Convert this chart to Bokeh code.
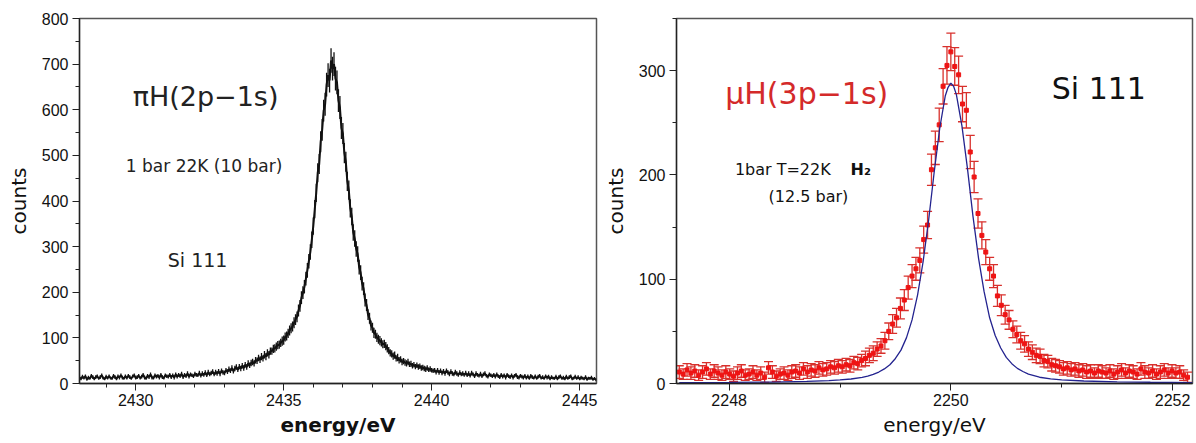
from bokeh.plotting import figure
from bokeh.layouts import row
from bokeh.models import (Range1d, SingleIntervalTicker, Label, Whisker, TeeHead,
                          ColumnDataSource)
from bokeh.embed import file_html
from bokeh.resources import INLINE
import numpy as np

# ---------------- left panel: pionic hydrogen, (2p-1s), Si 111 ----------------
pi_start = 2428.10
pi_step = 0.05
pi_counts = [
    13, 10, 15, 12, 16, 9, 13, 11, 17, 14, 10, 14, 16, 11, 14, 18, 12, 10, 15, 12,
    16, 12, 11, 17, 14, 10, 16, 13, 18, 13, 11, 16, 12, 17, 14, 11, 16, 18, 12, 14,
    17, 12, 15, 19, 13, 11, 17, 14, 20, 13, 12, 18, 15, 17, 13, 19, 14, 12, 18, 16,
    15, 19, 14, 18, 13, 20, 15, 19, 16, 21, 14, 19, 16, 22, 15, 20, 18, 16, 21, 19,
    18, 23, 17, 22, 19, 24, 18, 25, 20, 23, 26, 20, 25, 22, 27, 21, 28, 24, 23, 29,
    26, 31, 28, 34, 27, 33, 36, 30, 37, 33, 39, 34, 41, 36, 44, 40, 45, 47, 44, 51,
    50, 56, 52, 59, 55, 63, 59, 67, 63, 71, 71, 76, 77, 81, 84, 85, 89, 93, 95, 102,
    104, 110, 116, 121, 125, 133, 140, 146, 160, 170, 188, 199, 212, 230, 248, 268, 288, 315, 345, 382,
    418, 462, 481, 530, 556, 598, 612, 655, 676, 664, 708, 690, 700, 668, 660, 620, 605, 560, 548, 505,
    486, 443, 424, 384, 366, 331, 318, 295, 284, 255, 243, 219, 208, 183, 172, 151, 143, 127, 122, 111,
    108, 101, 97, 94, 90, 86, 87, 82, 77, 72, 67, 65, 60, 62, 55, 57, 51, 53, 47, 49,
    46, 44, 47, 42, 43, 39, 41, 37, 40, 36, 38, 34, 35, 33, 31, 34, 30, 32, 29, 28,
    29, 25, 29, 24, 28, 23, 27, 22, 28, 24, 21, 26, 22, 20, 25, 22, 19, 24, 20, 22,
    19, 23, 18, 22, 17, 23, 20, 16, 22, 19, 17, 21, 16, 20, 22, 17, 15, 20, 18, 16,
    19, 15, 20, 16, 14, 19, 15, 18, 13, 19, 16, 14, 18, 13, 17, 19, 14, 13, 17, 15,
    13, 17, 12, 16, 11, 17, 14, 12, 16, 11, 15, 17, 12, 14, 11, 16, 13, 15, 10, 14,
    12, 11, 15, 10, 14, 16, 11, 13, 10, 15, 11, 14, 16, 10, 12, 15, 11, 14, 10, 13,
    12, 10, 14, 9, 12, 11, 13, 9, 11, 8,
]
pi_err = [
    4, 3, 4, 3, 4, 3, 4, 3, 4, 4, 3, 4, 4, 3, 4, 4, 3, 3, 4, 3,
    4, 3, 3, 4, 4, 3, 4, 4, 4, 4, 3, 4, 3, 4, 4, 3, 4, 4, 3, 4,
    4, 3, 4, 4, 4, 3, 4, 4, 4, 4, 3, 4, 4, 4, 4, 4, 4, 3, 4, 4,
    4, 4, 4, 4, 4, 4, 4, 4, 4, 5, 4, 4, 4, 5, 4, 4, 4, 4, 5, 4,
    4, 5, 4, 5, 4, 5, 4, 5, 4, 5, 5, 4, 5, 5, 5, 5, 5, 5, 5, 5,
    5, 6, 5, 6, 5, 6, 6, 5, 6, 6, 6, 6, 6, 6, 7, 6, 7, 7, 7, 7,
    7, 7, 7, 8, 7, 8, 8, 8, 8, 8, 8, 9, 9, 9, 9, 9, 9, 10, 10, 10,
    10, 10, 11, 11, 11, 12, 12, 12, 13, 13, 14, 14, 15, 15, 16, 16, 17, 18, 19, 20,
    20, 21, 22, 23, 24, 24, 25, 26, 26, 26, 27, 26, 26, 26, 26, 25, 25, 24, 23, 22,
    22, 21, 21, 20, 19, 18, 18, 17, 17, 16, 16, 15, 14, 14, 13, 12, 12, 11, 11, 11,
    10, 10, 10, 10, 9, 9, 9, 9, 9, 8, 8, 8, 8, 8, 7, 8, 7, 7, 7, 7,
    7, 7, 7, 6, 7, 6, 6, 6, 6, 6, 6, 6, 6, 6, 6, 6, 5, 6, 5, 5,
    5, 5, 5, 5, 5, 5, 5, 5, 5, 5, 5, 5, 5, 4, 5, 5, 4, 5, 4, 5,
    4, 5, 4, 5, 4, 5, 4, 4, 5, 4, 4, 5, 4, 4, 5, 4, 4, 4, 4, 4,
    4, 4, 4, 4, 4, 4, 4, 4, 4, 4, 4, 4, 4, 4, 4, 4, 4, 4, 4, 4,
    4, 4, 3, 4, 3, 4, 4, 3, 4, 3, 4, 4, 3, 4, 3, 4, 4, 4, 3, 4,
    3, 3, 4, 3, 4, 4, 3, 4, 3, 4, 3, 4, 4, 3, 3, 4, 3, 4, 3, 4,
    3, 3, 4, 3, 3, 3, 4, 3, 3, 3,
]

# ---------------- right panel: muonic hydrogen, (3p-1s), Si 111 ----------------
mu_start = 2247.55
mu_step = 0.035
mu_counts = [
    11, 9, 13, 10, 12, 8, 11, 14, 9, 12,
    10, 8, 11, 9, 7, 10, 12, 8, 9, 11,
    8, 10, 6, 15, 11, 7, 9, 10, 8, 11,
    12, 10, 14, 11, 13, 12, 15, 13, 14, 16,
    15, 17, 16, 18, 17, 20, 19, 22, 24, 27,
    29, 33, 36, 41, 50, 57, 63, 72, 80, 92,
    103, 110, 118, 138, 152, 205, 226, 248, 285, 305,
    318, 304, 296, 268, 262, 222, 198, 163, 142, 126,
    110, 103, 84, 75, 66, 61, 52, 47, 41, 38,
    33, 30, 27, 26, 22, 21, 18, 17, 16, 14,
    15, 13, 14, 12, 13, 11, 12, 10, 12, 11,
    10, 12, 9, 11, 13, 10, 12, 11, 9, 14,
    11, 10, 12, 9, 11, 13, 10, 12, 10, 11, 8, 6,
]
mu_err = [
    6, 5, 6, 6, 6, 5, 6, 6, 5, 6,
    6, 5, 6, 5, 5, 6, 6, 5, 5, 6,
    5, 6, 5, 6, 6, 5, 5, 6, 5, 6,
    6, 6, 6, 6, 6, 6, 6, 6, 6, 6,
    6, 6, 6, 6, 6, 6, 6, 6, 7, 7,
    7, 7, 7, 8, 8, 9, 9, 10, 10, 11,
    11, 11, 12, 13, 13, 15, 16, 16, 17, 18,
    18, 18, 18, 17, 17, 16, 15, 14, 13, 12,
    11, 11, 10, 10, 9, 9, 8, 8, 8, 8,
    7, 7, 7, 7, 6, 6, 6, 6, 6, 6,
    6, 6, 6, 6, 6, 6, 6, 5, 6, 6,
    5, 6, 5, 6, 6, 5, 6, 6, 5, 6,
    6, 5, 6, 5, 6, 6, 5, 6, 5, 6, 5, 5,
]

# response function (blue curve)
resp_energy = [2247.55, 2248.0, 2248.4, 2248.7, 2248.9, 2249.0, 2249.1, 2249.2, 2249.25,
               2249.3, 2249.35, 2249.4, 2249.45, 2249.5, 2249.55, 2249.6, 2249.65, 2249.7,
               2249.75, 2249.8, 2249.85, 2249.9, 2249.95, 2249.975, 2250.0, 2250.025,
               2250.05, 2250.1, 2250.15, 2250.2, 2250.25, 2250.3, 2250.35, 2250.4, 2250.45,
               2250.5, 2250.55, 2250.6, 2250.65, 2250.7, 2250.8, 2250.9, 2251.0, 2251.2,
               2251.5, 2251.8, 2252.18]
resp_counts = [0.8, 1.0, 1.4, 2.0, 2.8, 3.4, 4.3, 5.8, 7.0, 8.7, 11, 14, 18, 24, 32, 44,
               61, 85, 117, 157, 203, 245, 276, 284, 288, 285, 277, 247, 206, 160, 120,
               88, 63, 46, 34, 25, 19, 14.5, 11.5, 9, 6, 4.5, 3.5, 2.4, 1.6, 1.2, 0.9]

TICK_FONT = "Liberation Sans"
TEXT_FONT = "DejaVu Sans"


def style(p, xint, xminor, yint, yminor, xlabel_bold):
    p.xgrid.visible = False
    p.ygrid.visible = False
    p.outline_line_color = "#555555"
    p.outline_line_width = 1.5
    p.background_fill_color = "white"
    p.border_fill_color = "white"
    p.xaxis.ticker = SingleIntervalTicker(interval=xint, num_minor_ticks=xminor)
    p.yaxis.ticker = SingleIntervalTicker(interval=yint, num_minor_ticks=yminor)
    for ax in (p.xaxis[0], p.yaxis[0]):
        ax.axis_line_color = "#222222"
        ax.axis_line_width = 1.3
        ax.major_tick_line_color = "#222222"
        ax.minor_tick_line_color = "#222222"
        ax.major_tick_in = 0
        ax.major_tick_out = 7
        ax.minor_tick_in = 0
        ax.minor_tick_out = 4
        ax.major_label_text_font = TICK_FONT
        ax.major_label_text_font_size = "16px"
        ax.major_label_text_color = "#111111"
        ax.axis_label_text_font = TEXT_FONT
        ax.axis_label_text_font_size = "20px"
        ax.axis_label_text_font_style = "normal"
        ax.axis_label_text_color = "#111111"
    p.xaxis.major_label_standoff = 3
    p.xaxis.axis_label_standoff = 4
    p.yaxis.major_label_standoff = 4
    p.yaxis.axis_label_standoff = 8
    if xlabel_bold:
        p.xaxis.axis_label_text_font_style = "bold"


# ---------------- left figure ----------------
pi_x = pi_start + pi_step * np.arange(len(pi_counts))
pc = np.array(pi_counts, dtype=float)
pe = np.array(pi_err, dtype=float)
src1 = ColumnDataSource(dict(x=pi_x, y=pc, lo=pc - pe, hi=pc + pe))

p1 = figure(width=600, height=443, output_backend="svg", toolbar_location=None,
            x_range=Range1d(2428.1, 2445.57), y_range=Range1d(0, 800),
            x_axis_label="energy/eV", y_axis_label="counts",
            min_border_left=79, min_border_right=4, min_border_top=18,
            min_border_bottom=60)
style(p1, 5, 5, 100, 2, True)
p1.segment(x0="x", y0="lo", x1="x", y1="hi", source=src1, line_color="#111111",
           line_width=1.3)
p1.line("x", "y", source=src1, line_color="#111111", line_width=2.0)

p1.add_layout(Label(x=2432.36, y=629, text="πH(2p−1s)", text_font=TEXT_FONT,
                    text_font_size="27px", text_align="center", text_baseline="middle",
                    text_color="#222222"))
p1.add_layout(Label(x=2432.31, y=476, text="1 bar 22K (10 bar)", text_font=TEXT_FONT,
                    text_font_size="17px", text_align="center", text_baseline="middle",
                    text_color="#222222"))
p1.add_layout(Label(x=2432.09, y=270, text="Si 111", text_font=TEXT_FONT,
                    text_font_size="19px", text_align="center", text_baseline="middle",
                    text_color="#222222"))

# ---------------- right figure ----------------
mu_x = mu_start + mu_step * np.arange(len(mu_counts))
mc = np.array(mu_counts, dtype=float)
me = np.array(mu_err, dtype=float)
src2 = ColumnDataSource(dict(x=mu_x, y=mc, lo=mc - me, hi=mc + me))

p2 = figure(width=596, height=443, output_backend="svg", toolbar_location=None,
            x_range=Range1d(2247.525, 2252.18), y_range=Range1d(0, 350),
            x_axis_label="energy/eV", y_axis_label="counts",
            min_border_left=75, min_border_right=4, min_border_top=17,
            min_border_bottom=59)
style(p2, 2, 2, 100, 2, False)

RED = "#ee1414"
BAR = "#d8302c"
wh = Whisker(base="x", lower="lo", upper="hi", source=src2, dimension="height",
             line_color=BAR, line_width=1.3,
             upper_head=TeeHead(size=9, line_color=BAR, line_width=1.3),
             lower_head=TeeHead(size=9, line_color=BAR, line_width=1.3))
p2.add_layout(wh)
p2.scatter("x", "y", source=src2, marker="square", size=4, fill_color=RED,
           line_color=RED)
p2.line(resp_energy, resp_counts, line_color="#23238f", line_width=1.3)

p2.add_layout(Label(x=2248.70, y=278, text="μH(3p−1s)", text_font=TEXT_FONT,
                    text_font_size="30px", text_align="center", text_baseline="middle",
                    text_color="#d42a2a"))
p2.add_layout(Label(x=2251.335, y=283, text="Si 111", text_font=TEXT_FONT,
                    text_font_size="30px", text_align="center", text_baseline="middle",
                    text_color="#111111"))
p2.add_layout(Label(x=2248.484, y=205, text="1bar T=22K", text_font=TEXT_FONT,
                    text_font_size="16px", text_align="center", text_baseline="middle",
                    text_color="#111111"))
p2.add_layout(Label(x=2249.187, y=205, text="H₂", text_font=TEXT_FONT,
                    text_font_size="16px", text_font_style="bold", text_align="center",
                    text_baseline="middle", text_color="#111111"))
p2.add_layout(Label(x=2248.715, y=179, text="(12.5 bar)", text_font=TEXT_FONT,
                    text_font_size="16px", text_align="center", text_baseline="middle",
                    text_color="#111111"))

layout = row(p1, p2)
open("out.html", "w").write(file_html(layout, INLINE))
